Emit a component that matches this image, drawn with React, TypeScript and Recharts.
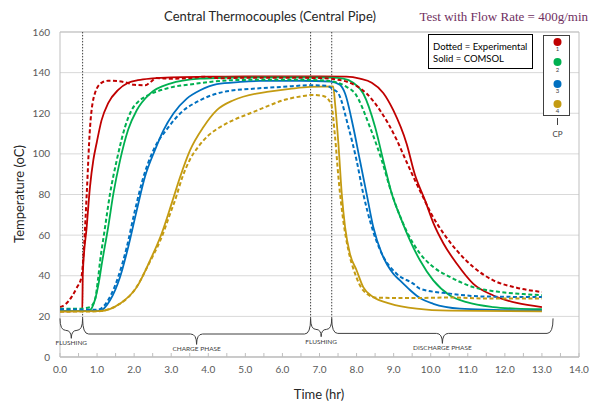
import React from 'react';
import { LineChart, Line, XAxis, YAxis, CartesianGrid, ReferenceLine, ReferenceArea } from 'recharts';

type P = { t: number; v: number };
const mk = (a: number[][]): P[] => a.map(([t, v]) => ({ t, v }));

// CP1 (red)
const cp1Sim = mk([[0,22.5],[0.6,22.6],[0.615,41],[0.72,64],[0.81,84],[0.9,97],[0.99,105.5],[1.12,116.5],[1.3,125],[1.57,131.5],[1.84,135],[2.1,136.3],[2.5,137.2],[3,137.7],[4,138],[5,138.2],[6,138.2],[7,138.2],[7.73,138],[8.09,137],[8.41,135],[8.72,130],[8.99,121.5],[9.35,105],[9.57,90],[9.85,77],[10.07,66],[10.34,56],[10.7,46],[11.15,36],[11.69,30.3],[12.32,26.6],[13,24.6]]);
const cp1Exp = mk([[0,24.6],[0.15,26],[0.31,29.5],[0.45,34],[0.58,39.4],[0.65,55],[0.72,80],[0.81,113],[0.94,129.7],[1.12,135],[1.3,136],[1.57,135.8],[1.8,135],[2,134],[2.3,133.8],[2.45,135.5],[2.6,137.3],[3,137],[3.5,137.3],[3.9,138],[4.3,137.2],[5,137.5],[6,137.5],[7,137.3],[7.5,136.5],[7.82,135],[8.27,129.7],[8.63,121.5],[9.08,107],[9.35,96],[9.6,86],[9.8,78.5],[10,71],[10.34,61],[10.7,52.5],[11.15,44.3],[11.69,37.7],[12.32,34.1],[13,32]]);
// CP2 (green)
const cp2Sim = mk([[0,22.6],[0.6,22.6],[0.8,23],[0.94,28],[1.05,37],[1.12,45],[1.3,64],[1.44,80.4],[1.62,96.8],[1.84,112],[2.07,121.5],[2.43,129.7],[2.97,134.6],[3.78,137],[4.5,137.5],[5.5,137.7],[6.5,137.7],[7.3,137.5],[7.64,137],[7.91,135],[8.18,129.7],[8.5,113.2],[8.72,96.8],[8.95,80.4],[9.2,68],[9.44,57.4],[9.71,47.6],[10.07,37.7],[10.52,30.3],[10.97,27],[11.69,24.6],[12.3,23.8],[13,23.5]]);
const cp2Exp = mk([[0,23.8],[0.5,23.8],[0.8,24.5],[0.94,28],[1.03,39],[1.08,47],[1.2,62],[1.35,80.4],[1.53,96.8],[1.75,113],[1.93,121.5],[2.1,125.5],[2.34,128.5],[2.88,132.2],[3.69,134.6],[4.68,136.3],[5.5,136.5],[6.5,136.5],[7.2,136],[7.5,135],[7.73,133],[7.96,129.7],[8.36,113.2],[8.68,96.8],[8.95,80.4],[9.35,62],[9.71,50.9],[10.07,44.3],[10.52,39.4],[11.15,34.4],[11.87,32],[12.5,31],[13,30.4]]);
// CP3 (blue)
const cp3Sim = mk([[0,22.6],[1.08,22.8],[1.35,27.9],[1.62,39.4],[1.84,54.1],[2.07,72.2],[2.29,88.6],[2.56,101.8],[2.79,111.6],[3.06,119.9],[3.42,127.2],[3.78,131.3],[4.23,134.3],[4.86,135.4],[5.4,135.9],[6.5,136],[7.3,135.6],[7.55,134],[7.69,129.7],[7.91,113.2],[8.09,96.8],[8.27,80.4],[8.45,64],[8.68,50.9],[8.99,41],[9.17,37.7],[9.44,33],[9.71,29],[10.07,26.2],[10.79,23.8],[11.69,23.2],[13,22.8]]);
const cp3Exp = mk([[0,23.5],[0.6,23.3],[1,23.2],[1.3,28],[1.57,39.4],[1.8,54],[2.02,72],[2.25,88.6],[2.52,101.8],[2.92,113],[3.24,119.9],[3.78,126.4],[4.41,130.5],[5.3,132.2],[6,133],[6.8,133.8],[7.2,133.5],[7.35,132],[7.51,129.7],[7.78,113.2],[8,96.8],[8.18,80.4],[8.41,64],[8.68,50.9],[9.08,41],[9.53,36.1],[9.71,33.6],[10.52,31.2],[11.42,29.8],[13,29.5]]);
// CP4 (gold)
const cp4Sim = mk([[0,22.5],[1.08,22.6],[1.62,26.3],[2.07,34.4],[2.43,47.6],[2.74,60.7],[3.01,75.5],[3.24,88.6],[3.51,101.8],[3.87,113.2],[4.23,121.5],[4.68,126.4],[5.3,129.7],[5.58,130.5],[6.2,132],[6.74,133],[7.37,133.2],[7.42,124.8],[7.51,105],[7.6,80.4],[7.69,64],[7.82,50.9],[8,42.7],[8.18,34.4],[8.45,29.5],[8.9,26.3],[9.62,23.8],[10.5,22.8],[13,22.5]]);
const cp4Exp = mk([[0,22.3],[1,22.5],[1.6,26],[2.05,34],[2.4,46],[2.72,58],[3,72],[3.1,77],[3.3,88.5],[3.5,97],[3.75,104],[4,109],[4.3,113],[4.6,116],[5.13,120],[5.6,123.5],[6.02,126.4],[6.5,128.3],[6.8,129],[7.1,128.5],[7.31,124.8],[7.42,108.3],[7.51,88.6],[7.64,67.3],[7.78,52.5],[7.96,41],[8.18,32.8],[8.54,29.2],[9.5,29],[10.5,29.3],[11.5,28.8],[13,28.8]]);

const xTicks = Array.from({ length: 29 }, (_, i) => i * 0.5);
const yTicks = [0, 20, 40, 60, 80, 100, 120, 140, 160];
const phaseLines = [0.61, 6.76, 7.33];
const braceStart = [0, 0.61, 6.76, 7.33];
const braceEnd = [0.61, 6.76, 7.33, 13.3];
const braceTip = [9.2, 6.2, 10, 6.7];
const braceLabels = ['FLUSHING', 'CHARGE PHASE', 'FLUSHING', 'DISCHARGE PHASE'];
const braceTop = 19;

const RED = '#c00000';
const GREEN = '#00b050';
const BLUE = '#0070c0';
const GOLD = '#c49b12';

const series = [
  { d: cp1Sim, c: RED, dash: false },
  { d: cp2Sim, c: GREEN, dash: false },
  { d: cp3Sim, c: BLUE, dash: false },
  { d: cp4Sim, c: GOLD, dash: false },
  { d: cp1Exp, c: RED, dash: true },
  { d: cp2Exp, c: GREEN, dash: true },
  { d: cp3Exp, c: BLUE, dash: true },
  { d: cp4Exp, c: GOLD, dash: true },
];

const XTick = (props: any) => {
  const { x, y, payload } = props;
  const v = payload.value as number;
  const major = Math.abs(v - Math.round(v)) < 1e-6;
  return (
    <g>
      <line x1={x} x2={x} y1={y} y2={y - 4} stroke="#bfbfbf" />
      {major && (
        <text x={x} y={y + 16} textAnchor="middle" fontSize={10} fill="#595959">
          {v.toFixed(1)}
        </text>
      )}
    </g>
  );
};

const makeBrace = (label: string) => (props: any) => {
  const { x1, y1, x2, y2 } = props;
  const xm = (x1 + x2) / 2;
  const ym = y1 + 0.6 * (y2 - y1);
  const r = Math.min(6, (x2 - x1) / 4);
  const d = `M${x1},${y1} Q${x1},${ym} ${x1 + r},${ym} L${xm - r},${ym} Q${xm},${ym} ${xm},${y2} Q${xm},${ym} ${xm + r},${ym} L${x2 - r},${ym} Q${x2},${ym} ${x2},${y1}`;
  return (
    <g>
      <path d={d} fill="none" stroke="#404040" strokeWidth={1} />
      <text x={xm} y={y2 + 7} textAnchor="middle" fontSize={6.5} fill="#404040">
        {label}
      </text>
    </g>
  );
};

export default function App() {
  return (
    <div style={{ position: 'absolute', left: 0, top: 0, width: 596, height: 401, background: '#fff', fontFamily: 'Lato, sans-serif' }}>
      <LineChart width={596} height={401} margin={{ top: 32, right: 17, bottom: 14, left: 8 }}>
        <CartesianGrid vertical={false} stroke="#d9d9d9" />
        <ReferenceArea x1={0} x2={14} y1={0} y2={160} fill="none" fillOpacity={0} stroke="#bfbfbf" />
        <XAxis
          type="number"
          dataKey="t"
          domain={[0, 14]}
          ticks={xTicks}
          interval={0}
          tick={<XTick />}
          tickSize={0}
          tickMargin={0}
          tickLine={false}
          axisLine={{ stroke: '#bfbfbf' }}
          height={30}
          allowDataOverflow
        />
        <YAxis
          type="number"
          domain={[0, 160]}
          ticks={yTicks}
          width={52}
          tickLine={false}
          axisLine={false}
          tickSize={6}
          tickMargin={4}
          tick={{ fontSize: 10, fill: '#595959' }}
        />
        {phaseLines.map((p, i) => (
          <ReferenceLine key={'pl' + i} segment={[{ x: p, y: braceTop }, { x: p, y: 160 }]} stroke="#404040" strokeDasharray="1.5 1.5" strokeWidth={1} />
        ))}
        {braceStart.map((s, i) => (
          <ReferenceLine
            key={'br' + i}
            segment={[{ x: s, y: braceTop }, { x: braceEnd[i], y: braceTip[i] }]}
            shape={makeBrace(braceLabels[i])}
          />
        ))}
        {series.map((s, i) => (
          <Line
            key={i}
            data={s.d}
            dataKey="v"
            type="monotone"
            stroke={s.c}
            strokeWidth={s.dash ? 2 : 1.8}
            strokeDasharray={s.dash ? '4 2.5' : undefined}
            dot={false}
            activeDot={false}
            isAnimationActive={false}
          />
        ))}
      </LineChart>
      <svg width={596} height={401} style={{ position: 'absolute', left: 0, top: 0, pointerEvents: 'none' }}>
        <text x={270} y={21} textAnchor="middle" fontSize={13} fill="#262626">Central Thermocouples (Central Pipe)</text>
        <text x={588} y={21} textAnchor="end" fontSize={13} fontFamily="'Liberation Serif', serif" fill="#70305f">Test with Flow Rate = 400g/min</text>
        <text transform="translate(24,194) rotate(-90)" textAnchor="middle" fontSize={13} fill="#262626">Temperature (oC)</text>
        <text x={319} y={399} textAnchor="middle" fontSize={13} fill="#262626">Time (hr)</text>
        <rect x={428.5} y={34.5} width={104} height={34} fill="#fff" stroke="#000" strokeWidth={1} />
        <text x={433} y={49.5} fontSize={9.5} fill="#000">Dotted = Experimental</text>
        <text x={433} y={62} fontSize={9.5} fill="#000">Solid = COMSOL</text>
        <rect x={543.5} y={35.5} width={26} height={80} fill="#fff" stroke="#404040" strokeWidth={1} />
        {[RED, GREEN, BLUE, GOLD].map((c, i) => (
          <g key={i}>
            <circle cx={557.5} cy={[42, 62, 84, 104][i]} r={4} fill={c} />
            <text x={557.5} y={[51, 71.5, 93, 112.5][i]} textAnchor="middle" fontSize={6} fill="#404040">{i + 1}</text>
          </g>
        ))}
        <line x1={557.5} x2={557.5} y1={118} y2={125} stroke="#404040" />
        <text x={557.5} y={137} textAnchor="middle" fontSize={8} fill="#404040">CP</text>
      </svg>
    </div>
  );
}
